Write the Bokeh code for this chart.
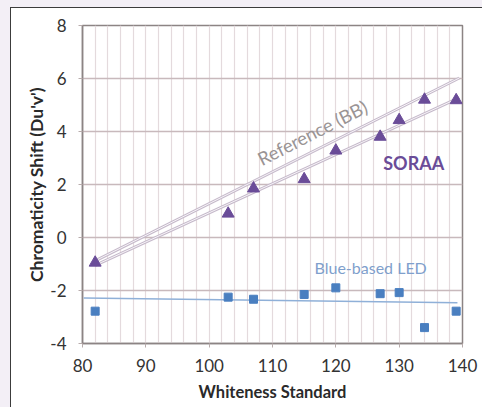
from bokeh.plotting import figure
from bokeh.models import FixedTicker, Range1d, Label
from bokeh.embed import file_html
from bokeh.resources import INLINE

# ---- data ----
whiteness = [82, 103, 107, 115, 120, 127, 130, 134, 139]
soraa_shift = [-0.95, 0.9, 1.85, 2.2, 3.28, 3.8, 4.43, 5.2, 5.18]
blue_led_shift = [-2.78, -2.25, -2.33, -2.15, -1.9, -2.12, -2.08, -3.4, -2.78]

reference_bb_x = [82, 139.5]
reference_bb_y = [-0.88, 6.02]
soraa_fit_x = [82, 139.5]
soraa_fit_y = [-1.05, 5.28]
blue_fit_x = [80.2, 139.2]
blue_fit_y = [-2.28, -2.46]

x_ticks = [80, 90, 100, 110, 120, 130, 140]
x_grid = list(range(80, 141, 2))
y_ticks = [-4, -2, 0, 2, 4, 6, 8]
y_tick_labels = {-4: "-4", -2: "-2", 0: "0", 2: "2", 4: "4", 6: "6", 8: "8"}

FONT = "Lato"

p = figure(width=482, height=407, output_backend="svg", toolbar_location=None,
           x_range=Range1d(80, 140), y_range=Range1d(-4, 8),
           min_border_left=82, min_border_right=20, min_border_top=25,
           min_border_bottom=64)
p.background_fill_color = "white"
p.border_fill_color = None
p.outline_line_color = "#8c8484"
p.outline_line_width = 1.5

# page backdrop: lavender margin, dark-edged white panel
p.styles = {
    "background-image": (
        "linear-gradient(to bottom, #f3eff6 0px, #f3eff6 7px, transparent 7px),"
        "linear-gradient(to right, #f3eff6 0px, #f3eff6 10px, #3c3c3c 10px, "
        "#3c3c3c 11.5px, transparent 11.5px),"
        "linear-gradient(to bottom, #3c3c3c 0px, #3c3c3c 8.5px, #ffffff 8.5px)"
    ),
}

# grid
p.xgrid.ticker = FixedTicker(ticks=x_grid)
p.xgrid.grid_line_color = "#e4dadd"
p.xgrid.grid_line_width = 1.2
p.ygrid.ticker = FixedTicker(ticks=y_ticks)
p.ygrid.grid_line_color = "#c8b9bc"
p.ygrid.grid_line_width = 1.3

# axes
p.xaxis.ticker = FixedTicker(ticks=x_ticks)
p.yaxis.ticker = FixedTicker(ticks=y_ticks)
p.yaxis.major_label_overrides = y_tick_labels
for ax in (p.xaxis, p.yaxis):
    ax.axis_line_color = "#8c8484"
    ax.axis_line_width = 1.5
    ax.major_tick_line_color = "#b8acac"
    ax.major_tick_out = 4
    ax.major_tick_in = 0
    ax.minor_tick_line_color = None
    ax.major_label_text_font = FONT
    ax.major_label_text_font_size = "17px"
    ax.major_label_text_color = "#333333"
    ax.axis_label_text_font = FONT
    ax.axis_label_text_font_style = "bold"
    ax.axis_label_text_color = "#2a2a2a"
p.xaxis.axis_label_text_font_size = "16.5px"
p.yaxis.axis_label_text_font_size = "17.5px"
p.xaxis.axis_label = "Whiteness Standard"
p.yaxis.axis_label = "Chromaticity Shift (Du'v')"
p.xaxis.major_label_standoff = 11
p.yaxis.major_label_standoff = 12
p.xaxis.axis_label_standoff = 7
p.yaxis.axis_label_standoff = 0

# trend lines (double-stroke look)
for xs, ys in ((reference_bb_x, reference_bb_y), (soraa_fit_x, soraa_fit_y)):
    p.line(xs, ys, line_color="#c6bacb", line_width=3.0)
    p.line(xs, ys, line_color="#f7f4f8", line_width=1.0)
p.line(blue_fit_x, blue_fit_y, line_color="#8fb0d8", line_width=1.5)

# markers
p.scatter(whiteness, soraa_shift, marker="triangle", size=12,
          fill_color="#6a4c98", line_color="#6a4c98")
p.scatter(whiteness, blue_led_shift, marker="square", size=8,
          fill_color="#4a7fc0", line_color="#4a7fc0")

# annotations
p.add_layout(Label(x=116.3, y=3.95, text="Reference (BB)", angle=0.47,
                   text_font=FONT, text_font_size="18.5px",
                   text_color="#9a9494", text_align="center",
                   text_baseline="middle"))
p.add_layout(Label(x=132.3, y=2.8, text="SORAA",
                   text_font=FONT, text_font_size="18px",
                   text_font_style="bold", text_color="#6a4c98",
                   text_align="center", text_baseline="middle"))
p.add_layout(Label(x=125.5, y=-1.13, text="Blue-based LED",
                   text_font=FONT, text_font_size="16px",
                   text_color="#7f9fcc", text_align="center",
                   text_baseline="middle"))

open("out.html", "w").write(file_html(p, INLINE))
